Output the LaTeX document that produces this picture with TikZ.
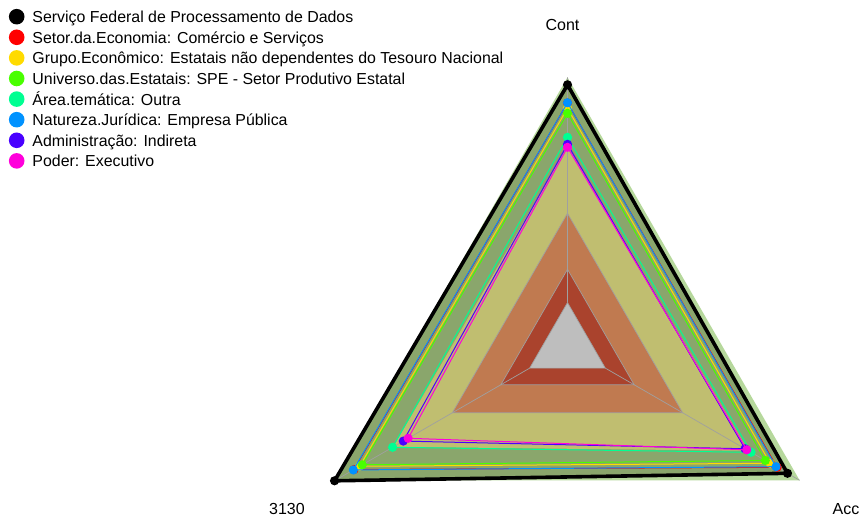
\documentclass[tikz,border=0pt]{standalone}
\usepackage{fontspec}
\setmainfont{Liberation Sans}
\usetikzlibrary{calc}
\definecolor{sBlack}{HTML}{000000}
\definecolor{sRed}{HTML}{FF0000}
\definecolor{sYellow}{HTML}{FFDB00}
\definecolor{sGreen}{HTML}{49FF00}
\definecolor{sTeal}{HTML}{00FF92}
\definecolor{sBlue}{HTML}{0092FF}
\definecolor{sPurple}{HTML}{4900FF}
\definecolor{sMagenta}{HTML}{FF00DB}
\definecolor{fLight}{HTML}{B6D89C}
\definecolor{fGreen}{HTML}{8AA66C}
\definecolor{fOlive}{HTML}{C0BE70}
\definecolor{fOrange}{HTML}{C07A50}
\definecolor{fDark}{HTML}{AA432D}
\definecolor{fGray}{HTML}{BEBEBE}
\definecolor{gridline}{HTML}{A0A0A0}
\newcommand\mkpoly[4]{%
  \coordinate (#1-t) at ($(C)+(90:#2)$);
  \coordinate (#1-l) at ($(C)+(210:#3)$);
  \coordinate (#1-r) at ($(C)+(330:#4)$);
}
\newcommand\drawseries[3]{% name, colour, width
  \draw[#2, line width=#3, line join=round] (#1-t) -- (#1-l) -- (#1-r) -- cycle;
  \fill[#2] (#1-t) circle (4.6);
  \fill[#2] (#1-l) circle (4.6);
  \fill[#2] (#1-r) circle (4.6);
}
\tikzset{
  legtext/.style={anchor=base west, inner sep=0pt, font=\fontsize{15.9bp}{18bp}\selectfont},
  legdot/.style={circle, fill=#1, minimum size=15.6bp, inner sep=0pt},
  axlabel/.style={anchor=base, inner sep=0pt, font=\fontsize{16bp}{19bp}\selectfont}
}
\begin{document}
\begin{tikzpicture}[x=1bp,y=1bp]
\useasboundingbox (0,0) rectangle (862,519);
\coordinate (C) at (567.5,172.7);
% fill regions
\mkpoly{light}{269}{268}{268}
\mkpoly{olive}{200}{201}{209}
\mkpoly{g3}{133}{133}{133}
\mkpoly{g2}{77}{77}{77}
\mkpoly{g1}{43.7}{43.7}{43.7}
% series
\mkpoly{s1}{261.5}{269}{254}
\mkpoly{s2}{243.4}{246.5}{242}
\mkpoly{s3}{238}{240}{234}
\mkpoly{s4}{233}{237}{228.4}
\mkpoly{s5}{209}{202}{212}
\mkpoly{s6}{243.6}{247.3}{240.8}
\mkpoly{s7}{202}{189.6}{205}
\mkpoly{s8}{199}{184}{207}
\fill[fLight] (light-t) -- (light-l) -- (light-r) -- cycle;
\fill[fGreen] (s1-t) -- (s1-l) -- (s1-r) -- cycle;
\fill[fOlive] (olive-t) -- (olive-l) -- (olive-r) -- cycle;
\fill[fOrange] (g3-t) -- (g3-l) -- (g3-r) -- cycle;
\fill[fDark] (g2-t) -- (g2-l) -- (g2-r) -- cycle;
\fill[fGray] (g1-t) -- (g1-l) -- (g1-r) -- cycle;
% grid
\foreach \g in {g1,g2,g3}{\draw[gridline, line width=0.7bp] (\g-t) -- (\g-l) -- (\g-r) -- cycle;}
\draw[gridline, line width=0.7bp] (g1-t) -- (light-t) (g1-l) -- (light-l) (g1-r) -- (light-r);
% series lines and dots
\drawseries{s1}{sBlack}{3.6bp}
\drawseries{s2}{sRed}{1bp}
\drawseries{s3}{sYellow}{1bp}
\drawseries{s4}{sGreen}{1bp}
\drawseries{s5}{sTeal}{1bp}
\drawseries{s6}{sBlue}{1bp}
\drawseries{s7}{sPurple}{1bp}
\drawseries{s8}{sMagenta}{1bp}
% axis labels
\node[axlabel] (labCont) at (562.5,488.5) {Cont};
\node[axlabel] (lab3130) at (287,4.5) {3130};
\node[axlabel] (labAcc) at (846,4.5) {Acc};
% legend
\node[legdot=sBlack]   (d1) at (16.7,502.3) {};
\node[legdot=sRed]     (d2) at (16.7,481.7) {};
\node[legdot=sYellow]  (d3) at (16.7,461.1) {};
\node[legdot=sGreen]   (d4) at (16.7,440.5) {};
\node[legdot=sTeal]    (d5) at (16.7,419.9) {};
\node[legdot=sBlue]    (d6) at (16.7,399.3) {};
\node[legdot=sPurple]  (d7) at (16.7,378.7) {};
\node[legdot=sMagenta] (d8) at (16.7,358.1) {};
\node[legtext] (t1) at (32.3,496.3) {Serviço Federal de Processamento de Dados};
\node[legtext] (t2) at (32.3,475.7) {Setor.da.Economia: Comércio e Serviços};
\node[legtext] (t3) at (32.3,455.1) {Grupo.Econômico: Estatais não dependentes do Tesouro Nacional};
\node[legtext] (t4) at (32.3,434.5) {Universo.das.Estatais: SPE - Setor Produtivo Estatal};
\node[legtext] (t5) at (32.3,413.9) {Área.temática: Outra};
\node[legtext] (t6) at (32.3,393.3) {Natureza.Jurídica: Empresa Pública};
\node[legtext] (t7) at (32.3,372.7) {Administração: Indireta};
\node[legtext] (t8) at (32.3,352.1) {Poder: Executivo};
\end{tikzpicture}
\end{document}
